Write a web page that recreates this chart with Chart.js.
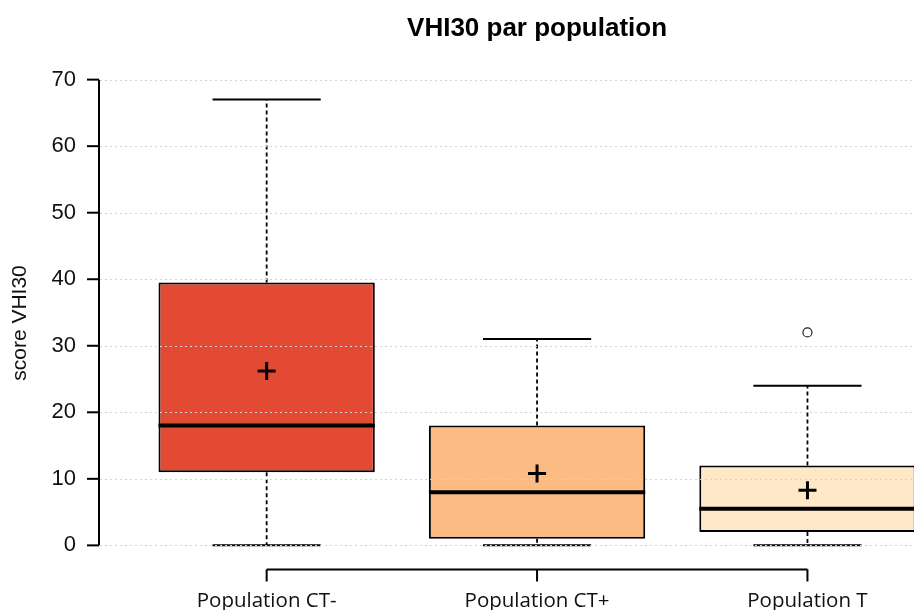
<!DOCTYPE html>
<html><head><meta charset="utf-8">
<script src="https://cdn.jsdelivr.net/npm/chart.js@4"></script>
<style>html,body{margin:0;padding:0;background:#fff;overflow:hidden}#wrap{width:914px;height:610px;position:relative}</style>
</head><body><div id="wrap"><canvas id="c" width="914" height="610"></canvas></div>
<script>
const categories = ['Population CT-', 'Population CT+', 'Population T'];
const positions = [1, 2, 3];
const q1 = [11, 1, 2];
const median = [18, 8, 5.5];
const q3 = [39.5, 18, 12];
const whiskerLow = [0, 0, 0];
const whiskerHigh = [67, 31, 24];
const means = [26.2, 10.8, 8.3];
const outliers = [[], [], [32]];
const yTicks = [0, 10, 20, 30, 40, 50, 60, 70];
const boxColors = ['#E34A33', '#FDBB84', '#FEE8C8'];
const chartTitle = 'VHI30 par population';
const yTitle = 'score VHI30';

const outlierPoints = [];
outliers.forEach((arr, i) => arr.forEach(v => outlierPoints.push({x: positions[i], y: v})));

function seg(ctx, x1, y1, x2, y2) { ctx.beginPath(); ctx.moveTo(x1, y1); ctx.lineTo(x2, y2); ctx.stroke(); }

const boxPlugin = {
  id: 'boxplot',
  afterDatasetDraw(chart, args) {
    if (args.index !== 0) return;
    const {ctx, chartArea: a, scales: {x, y}} = chart;
    ctx.save();
    ctx.beginPath(); ctx.rect(a.left, a.top, a.right - a.left, a.bottom - a.top); ctx.clip();
    ctx.strokeStyle = '#000';
    positions.forEach((p, i) => {
      const cx = x.getPixelForValue(p);
      ctx.lineWidth = 1.8; ctx.setLineDash([4, 3]);
      seg(ctx, cx, y.getPixelForValue(q3[i]), cx, y.getPixelForValue(whiskerHigh[i]));
      seg(ctx, cx, y.getPixelForValue(q1[i]), cx, y.getPixelForValue(whiskerLow[i]));
      ctx.setLineDash([]);
      ctx.lineWidth = 2;
      const cl = x.getPixelForValue(p - 0.2), cr = x.getPixelForValue(p + 0.2);
      seg(ctx, cl, y.getPixelForValue(whiskerHigh[i]), cr, y.getPixelForValue(whiskerHigh[i]));
      seg(ctx, cl, y.getPixelForValue(whiskerLow[i]), cr, y.getPixelForValue(whiskerLow[i]));
      ctx.lineWidth = 4;
      const bl = x.getPixelForValue(p - 0.4), br = x.getPixelForValue(p + 0.4);
      seg(ctx, bl, y.getPixelForValue(median[i]), br, y.getPixelForValue(median[i]));
    });
    ctx.strokeStyle = '#D3D3D3'; ctx.lineWidth = 1; ctx.setLineDash([2, 3]);
    yTicks.forEach(v => {
      const py = Math.round(y.getPixelForValue(v)) + 0.5;
      seg(ctx, a.left + 1, py, a.right, py);
    });
    ctx.restore();
  },
  afterDraw(chart) {
    const {ctx, chartArea: a, scales: {x, y}} = chart;
    ctx.save();
    ctx.strokeStyle = '#000'; ctx.lineWidth = 2; ctx.setLineDash([]);
    // y axis
    seg(ctx, a.left, y.getPixelForValue(yTicks[0]), a.left, y.getPixelForValue(yTicks[yTicks.length - 1]));
    yTicks.forEach(v => { const py = y.getPixelForValue(v); seg(ctx, a.left - 12, py, a.left, py); });
    // x axis
    const ay = a.bottom + 5.5;
    seg(ctx, x.getPixelForValue(positions[0]), ay, x.getPixelForValue(positions[positions.length - 1]), ay);
    positions.forEach(p => { const px = x.getPixelForValue(p); seg(ctx, px, ay, px, ay + 12); });
    // title
    ctx.fillStyle = '#000';
    ctx.font = 'bold 26px "Liberation Sans", Arial, sans-serif';
    ctx.textAlign = 'center'; ctx.textBaseline = 'middle';
    ctx.fillText(chartTitle, x.getPixelForValue(2), 29);
    // y title
    ctx.font = '21px "Liberation Sans", Arial, sans-serif';
    ctx.fillStyle = '#111';
    ctx.translate(20, 323); ctx.rotate(-Math.PI / 2);
    ctx.fillText(yTitle, 0, 0);
    ctx.restore();
  }
};

new Chart(document.getElementById('c'), {
  type: 'bar',
  data: {
    datasets: [
      { type: 'bar', label: 'box', data: positions.map((p, i) => ({x: p, y: [q1[i], q3[i]]})),
        backgroundColor: boxColors, borderColor: '#000', borderWidth: 2, borderSkipped: false,
        barPercentage: 0.8, categoryPercentage: 1, order: 3 },
      { type: 'scatter', label: 'outliers', data: outlierPoints, pointStyle: 'circle', pointRadius: 4.5,
        borderColor: '#222', borderWidth: 1.2, backgroundColor: 'rgba(0,0,0,0)', order: 2 },
      { type: 'scatter', label: 'mean', data: positions.map((p, i) => ({x: p, y: means[i]})),
        pointStyle: 'cross', pointRadius: 9, borderColor: '#000', borderWidth: 3, order: 1 }
    ]
  },
  options: {
    responsive: false, animation: false, devicePixelRatio: 1,
    layout: {autoPadding: false, padding: {top: 61, left: 0, right: 0, bottom: 0}},
    plugins: {legend: {display: false}, tooltip: {enabled: false}, title: {display: false}},
    scales: {
      x: { type: 'linear', offset: false, min: 0.38, max: 3.394, grid: {display: false, offset: false}, border: {display: false},
        afterBuildTicks: s => { s.ticks = positions.map(v => ({value: v})); },
        afterFit: s => { s.height = 46; s.paddingLeft = 0; s.paddingRight = 0; },
        ticks: { callback: v => categories[v - 1], autoSkip: false, maxRotation: 0, minRotation: 0,
          font: {family: 'Open Sans', size: 20.5}, color: '#111', padding: 17 } },
      y: { type: 'linear', min: -2.8, max: 72.8, grid: {display: false}, border: {display: false},
        afterBuildTicks: s => { s.ticks = yTicks.map(v => ({value: v})); },
        afterFit: s => { s.width = 99; s.paddingTop = 0; s.paddingBottom = 0; },
        ticks: { font: {family: 'Liberation Sans', size: 22}, color: '#111', padding: 15 } }
    }
  },
  plugins: [boxPlugin]
});
</script>
</body></html>
